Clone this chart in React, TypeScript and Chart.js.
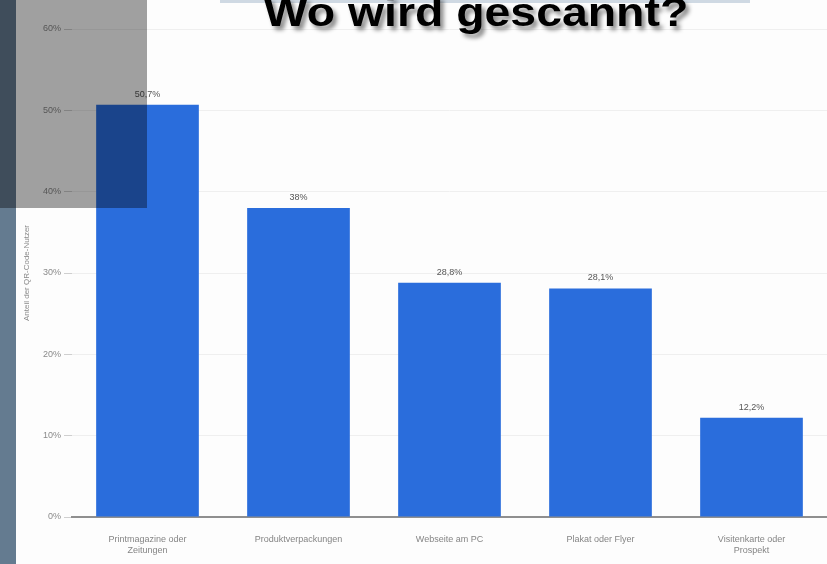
import React, { useEffect, useRef } from "react";
import { Chart, registerables } from "chart.js";

Chart.register(...registerables);

const categories: (string | string[])[] = [
  ["Printmagazine oder", "Zeitungen"],
  "Produktverpackungen",
  "Webseite am PC",
  "Plakat oder Flyer",
  ["Visitenkarte oder", "Prospekt"],
];
const values = [50.7, 38, 28.8, 28.1, 12.2];
const yMin = 0;
const yMax = 60;
const yStep = 10;
const yTitle = "Anteil der QR-Code-Nutzer";
const chartTitle = "Wo wird gescannt?";

const fmt = (v: number) => String(v).replace(".", ",") + "%";

const valueLabels = {
  id: "valueLabels",
  afterDatasetsDraw(chart: any) {
    const ctx = chart.ctx;
    const meta = chart.getDatasetMeta(0);
    ctx.save();
    ctx.font = "9px 'Liberation Sans', Arial, sans-serif";
    ctx.fillStyle = "#555";
    ctx.textAlign = "center";
    ctx.textBaseline = "bottom";
    meta.data.forEach((bar: any, i: number) => {
      ctx.fillText(fmt(values[i]), bar.x, bar.y - 6);
    });
    ctx.restore();
  },
};

export default function App() {
  const ref = useRef<HTMLCanvasElement | null>(null);
  useEffect(() => {
    if (!ref.current) return;
    const chart = new Chart(ref.current, {
      type: "bar",
      data: {
        labels: categories,
        datasets: [
          {
            data: values,
            backgroundColor: "#2a6ddc",
            barPercentage: 0.68,
            categoryPercentage: 1,
          },
        ],
      },
      options: {
        animation: false,
        responsive: false,
        layout: { padding: { top: 29, right: 0, bottom: 0, left: 0 } },
        plugins: { legend: { display: false }, tooltip: { enabled: false } },
        scales: {
          x: {
            grid: { display: false },
            border: { color: "#8f8f8f", width: 2 },
            ticks: {
              font: { size: 9, family: "'Liberation Sans', Arial, sans-serif" },
              color: "#858585",
              padding: 9,
              maxRotation: 0,
              autoSkip: false,
            },
            afterFit: (s: any) => {
              s.height = 47;
            },
          },
          y: {
            min: yMin,
            max: yMax,
            border: { display: false },
            grid: {
              color: "#efefef",
              tickColor: "#cfcfcf",
              tickLength: 8,
            },
            ticks: {
              stepSize: yStep,
              padding: 3,
              font: { size: 9, family: "'Liberation Sans', Arial, sans-serif" },
              color: "#8a8a8a",
              callback: (v: any) => v + "%",
            },
            title: {
              display: true,
              text: yTitle,
              font: { size: 8, family: "'Liberation Sans', Arial, sans-serif" },
              color: "#8a8a8a",
              padding: { top: 22, bottom: 0 },
            },
            afterFit: (s: any) => {
              s.width = 72;
            },
          },
        },
      },
      plugins: [valueLabels],
    } as any);
    return () => chart.destroy();
  }, []);

  return (
    <div
      style={{
        position: "absolute",
        left: 0,
        top: 0,
        width: 827,
        height: 564,
        overflow: "hidden",
        background: "#fdfdfd",
      }}
    >
      <canvas
        ref={ref}
        width={827}
        height={564}
        style={{ position: "absolute", left: 0, top: 0, width: 827, height: 564 }}
      />
      <div
        style={{
          position: "absolute",
          left: 0,
          top: 0,
          width: 16,
          height: 564,
          background: "#647b90",
        }}
      />
      <div
        style={{
          position: "absolute",
          left: 220,
          top: 0,
          width: 530,
          height: 3,
          background: "#cfd9e3",
        }}
      />
      <div
        style={{
          position: "absolute",
          left: 0,
          top: 0,
          width: 147,
          height: 208,
          background: "rgba(0,0,0,0.37)",
        }}
      />
      <div
        style={{
          position: "absolute",
          left: 476,
          top: -8,
          transform: "translateX(-50%) scaleX(1.16)",
          fontFamily: "'Liberation Sans', Arial, sans-serif",
          fontWeight: "bold",
          fontSize: 40,
          lineHeight: "40px",
          color: "#000",
          textShadow: "3px 4px 4px rgba(0,0,0,0.45)",
          whiteSpace: "nowrap",
        }}
      >
        {chartTitle}
      </div>
    </div>
  );
}
